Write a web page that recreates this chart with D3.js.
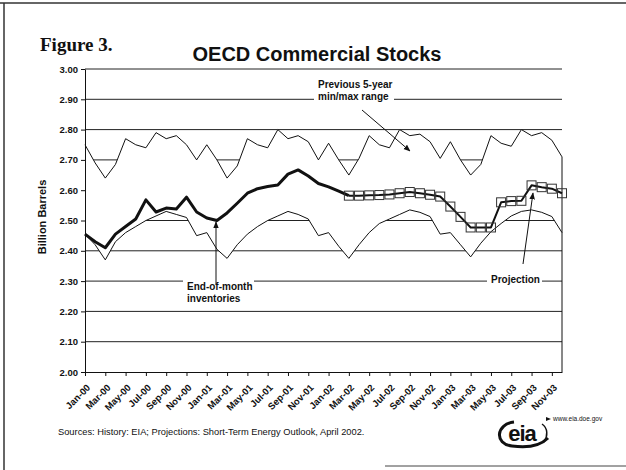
<!DOCTYPE html>
<html><head><meta charset="utf-8">
<script src="https://cdn.jsdelivr.net/npm/d3@7/dist/d3.min.js"></script>
<style>body{margin:0;background:#fff}svg{display:block}</style>
</head><body>
<svg id="chart" width="626" height="470"></svg>
<script>
// ---------- data ----------
const months = [
 "Jan-00","Feb-00","Mar-00","Apr-00","May-00","Jun-00","Jul-00","Aug-00","Sep-00","Oct-00","Nov-00","Dec-00",
 "Jan-01","Feb-01","Mar-01","Apr-01","May-01","Jun-01","Jul-01","Aug-01","Sep-01","Oct-01","Nov-01","Dec-01",
 "Jan-02","Feb-02","Mar-02","Apr-02","May-02","Jun-02","Jul-02","Aug-02","Sep-02","Oct-02","Nov-02","Dec-02",
 "Jan-03","Feb-03","Mar-03","Apr-03","May-03","Jun-03","Jul-03","Aug-03","Sep-03","Oct-03","Nov-03","Dec-03"];
const tickLabels = ["Jan-00","Mar-00","May-00","Jul-00","Sep-00","Nov-00","Jan-01","Mar-01","May-01","Jul-01","Sep-01","Nov-01",
 "Jan-02","Mar-02","May-02","Jul-02","Sep-02","Nov-02","Jan-03","Mar-03","May-03","Jul-03","Sep-03","Nov-03"];
const yTicks = [2.00,2.10,2.20,2.30,2.40,2.50,2.60,2.70,2.80,2.90,3.00];
const maxRange = [
 2.75,2.69,2.64,2.685,2.77,2.75,2.74,2.79,2.77,2.78,2.75,2.70,
 2.75,2.70,2.64,2.68,2.77,2.75,2.74,2.80,2.77,2.78,2.76,2.70,
 2.755,2.70,2.65,2.705,2.78,2.75,2.74,2.80,2.78,2.785,2.76,2.705,
 2.76,2.70,2.65,2.685,2.78,2.755,2.745,2.80,2.78,2.79,2.765,2.71];
const minRange = [
 2.455,2.42,2.37,2.43,2.46,2.48,2.50,2.515,2.53,2.52,2.51,2.45,
 2.46,2.405,2.375,2.42,2.455,2.48,2.50,2.515,2.53,2.52,2.505,2.45,
 2.46,2.415,2.375,2.42,2.46,2.49,2.505,2.52,2.535,2.527,2.513,2.455,
 2.46,2.42,2.38,2.425,2.463,2.49,2.515,2.53,2.535,2.527,2.513,2.46];
const historyMonths = months.slice(0, 27);          // Jan-00 .. Mar-02
const historyValues = [2.455,2.43,2.41,2.455,2.48,2.505,2.568,2.528,2.541,2.538,2.577,2.528,
 2.508,2.50,2.525,2.557,2.59,2.605,2.612,2.617,2.653,2.667,2.647,2.622,2.611,2.597,2.582];
const projMonths = months.slice(26);                // Mar-02 .. Dec-03
const projValues = [2.582,2.582,2.583,2.584,2.586,2.59,2.594,2.59,2.585,2.579,2.546,2.512,
 2.477,2.477,2.477,2.56,2.564,2.565,2.616,2.61,2.605,2.59];

// ---------- layout ----------
const svg = d3.select("#chart");
const L = 85, R = 562, T = 69, B = 372;
const x = d3.scalePoint().domain(months).range([L, R]);
const y = d3.scaleLinear().domain([2.0, 3.0]).range([B, T]);
const sans = "'Liberation Sans', Arial, sans-serif";
const ink = "#111";

svg.append("rect").attr("width",626).attr("height",470).attr("fill","#fff");

// scan border
svg.append("line").attr("x1",0).attr("x2",626).attr("y1",3).attr("y2",3).attr("stroke","#333").attr("stroke-width",1.5);
svg.append("line").attr("x1",4).attr("x2",4).attr("y1",3).attr("y2",470).attr("stroke","#333").attr("stroke-width",1.5);
svg.append("line").attr("x1",385).attr("x2",626).attr("y1",466).attr("y2",466).attr("stroke","#444").attr("stroke-width",1);

// defs: arrowhead
svg.append("defs").append("marker").attr("id","ah").attr("viewBox","0 0 10 10")
  .attr("refX",9).attr("refY",5).attr("markerWidth",7).attr("markerHeight",7).attr("orient","auto")
  .append("path").attr("d","M0,1 L10,5 L0,9 Z").attr("fill",ink);

// titles
svg.append("text").attr("x",40).attr("y",51).attr("font-family","'Liberation Serif','Times New Roman',serif")
  .attr("font-weight","bold").attr("font-size",19).attr("fill",ink).text("Figure 3.");
svg.append("text").attr("x",317).attr("y",61).attr("text-anchor","middle").attr("font-family",sans)
  .attr("font-weight","bold").attr("font-size",20).attr("fill",ink).text("OECD Commercial Stocks");

// gridlines
svg.append("g").selectAll("line").data(yTicks.filter(v => v > 2.0)).join("line")
  .attr("x1",L).attr("x2",R).attr("y1",d=>y(d)).attr("y2",d=>y(d))
  .attr("stroke","#222").attr("stroke-width",1);

// min/max band (white fill hides the gridlines)
const idx = d3.range(months.length);
svg.append("path").datum(idx)
  .attr("d", d3.area().x(i=>x(months[i])).y0(i=>y(minRange[i])).y1(i=>y(maxRange[i])))
  .attr("fill","#fff");
svg.append("path").datum(idx).attr("d", d3.line().x(i=>x(months[i])).y(i=>y(maxRange[i]))).attr("fill","none").attr("stroke",ink).attr("stroke-width",1);
svg.append("path").datum(idx).attr("d", d3.line().x(i=>x(months[i])).y(i=>y(minRange[i]))).attr("fill","none").attr("stroke",ink).attr("stroke-width",1);
svg.append("line").attr("x1",x(months[47])).attr("x2",x(months[47]))
  .attr("y1",y(maxRange[47])).attr("y2",y(2.0)).attr("stroke",ink).attr("stroke-width",1);

// axes
const yAxis = svg.append("g").attr("transform",`translate(${L},0)`)
  .call(d3.axisLeft(y).tickValues(yTicks).tickFormat(d3.format(".2f")).tickSize(4).tickSizeOuter(0));
yAxis.selectAll("text").attr("font-family",sans).attr("font-weight","bold").attr("font-size",9.5).attr("fill",ink).attr("x",-7);
yAxis.selectAll("line,path").attr("stroke",ink);

const xAxis = svg.append("g").attr("transform",`translate(0,${B})`)
  .call(d3.axisBottom(x).tickValues(tickLabels).tickSize(4).tickSizeOuter(0));
xAxis.selectAll("line,path").attr("stroke",ink);
xAxis.selectAll("text").attr("font-family",sans).attr("font-weight","bold").attr("font-size",9.5).attr("fill",ink)
  .attr("x",0).attr("y",0).attr("dy","0.35em").attr("text-anchor","end")
  .attr("transform","translate(3,14) rotate(-45)");

svg.append("text").attr("transform","translate(46,217) rotate(-90)").attr("text-anchor","middle")
  .attr("font-family",sans).attr("font-weight","bold").attr("font-size",11).attr("fill",ink).text("Billion Barrels");

// inventories (history)
svg.append("path").datum(historyValues)
  .attr("d", d3.line().x((d,i)=>x(historyMonths[i])).y(d=>y(d)))
  .attr("fill","none").attr("stroke",ink).attr("stroke-width",3).attr("stroke-linejoin","round");

// projection
svg.append("path").datum(projValues)
  .attr("d", d3.line().x((d,i)=>x(projMonths[i])).y(d=>y(d)))
  .attr("fill","none").attr("stroke",ink).attr("stroke-width",2).attr("stroke-linejoin","round");
svg.append("g").selectAll("rect").data(projValues).join("rect")
  .attr("x",(d,i)=>x(projMonths[i])-4.5).attr("y",d=>y(d)-4.5).attr("width",9).attr("height",9)
  .attr("fill","none").attr("stroke","#333").attr("stroke-width",1);

// annotations
function label(lines, tx, ty, box) {
  svg.append("rect").attr("x",box[0]).attr("y",box[1]).attr("width",box[2]).attr("height",box[3]).attr("fill","#fff");
  lines.forEach((t,k)=>svg.append("text").attr("x",tx).attr("y",ty+k*12)
    .attr("font-family",sans).attr("font-weight","bold").attr("font-size",10).attr("fill",ink).text(t));
}
label(["Previous 5-year","min/max range"], 318, 88, [314,76,80,27]);
svg.append("line").attr("x1",362).attr("y1",110).attr("x2",410).attr("y2",151)
  .attr("stroke",ink).attr("stroke-width",1).attr("marker-end","url(#ah)");

label(["End-of-month","inventories"], 187, 290, [183,276,71,28]);
svg.append("line").attr("x1",216).attr("y1",284).attr("x2",216).attr("y2",222)
  .attr("stroke",ink).attr("stroke-width",1).attr("marker-end","url(#ah)");

label(["Projection"], 491, 283, [487,272,55,15]);
svg.append("line").attr("x1",523).attr("y1",264).attr("x2",533).attr("y2",193)
  .attr("stroke",ink).attr("stroke-width",1).attr("marker-end","url(#ah)");

// footer
svg.append("text").attr("x",58).attr("y",435).attr("font-family",sans).attr("font-size",9.3).attr("fill",ink)
  .text("Sources: History: EIA; Projections: Short-Term Energy Outlook, April 2002.");

// EIA logo (simplified)
const lg = svg.append("g");
lg.append("path").attr("d","M 514 422 C 496 424, 494 444, 512 446 C 526 448, 540 446, 548 438")
  .attr("fill","none").attr("stroke",ink).attr("stroke-width",3);
lg.append("path").attr("d","M 542 424 C 548 428, 548 436, 544 442")
  .attr("fill","none").attr("stroke",ink).attr("stroke-width",1.5);
lg.append("text").attr("x",522).attr("y",441).attr("text-anchor","middle").attr("font-family",sans)
  .attr("font-weight","900").attr("font-size",22).attr("letter-spacing",-1).attr("fill",ink).text("eia");
lg.append("path").attr("d","M 546 417 L 551 419 L 546 421 Z").attr("fill",ink);
lg.append("text").attr("x",553).attr("y",421).attr("font-family",sans).attr("font-size",6.5).attr("fill",ink).text("www.eia.doe.gov");
</script>
</body></html>
